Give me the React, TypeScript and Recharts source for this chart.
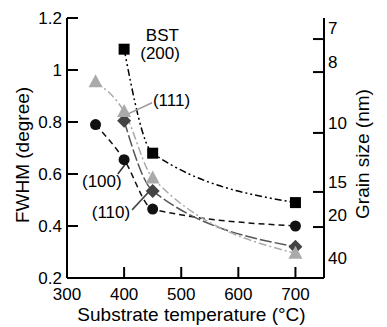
import React from 'react';
import { ComposedChart, Line, XAxis, YAxis, ReferenceLine, ReferenceDot } from 'recharts';

// ---- data ----
const temps200 = [400, 450, 700];
const fwhm200 = [1.08, 0.68, 0.49];
const temps100 = [350, 400, 450, 700];
const fwhm100 = [0.79, 0.655, 0.465, 0.4];
const temps110 = [400, 450, 700];
const fwhm110 = [0.805, 0.535, 0.32];
const temps111 = [350, 400, 450, 700];
const fwhm111 = [0.955, 0.84, 0.585, 0.295];

const xTicks = [300, 400, 500, 600, 700];
const yTicks = [0.2, 0.4, 0.6, 0.8, 1.0, 1.2];
const yTickLabels = ['0.2', '0.4', '0.6', '0.8', '1', '1.2'];
const grainLabels = ['7', '8', '10', '15', '20', '40'];
const grainLabelFwhm = [1.162, 1.031, 0.796, 0.569, 0.442, 0.277];
const grainMarkFwhm = [1.119, 0.992, 0.758, 0.531, 0.396];

const annotations = [
  { text: 'BST', x: 467, y: 1.135 },
  { text: '(200)', x: 463, y: 1.067 },
  { text: '(111)', x: 483, y: 0.885 },
  { text: '(100)', x: 361, y: 0.573 },
  { text: '(110)', x: 377, y: 0.454 },
];
const leaders = [
  { x1: 407, y1: 0.831, x2: 449, y2: 0.874, color: '#9a9a9a' },
  { x1: 389, y1: 0.6, x2: 404, y2: 0.643, color: '#333' },
  { x1: 414, y1: 0.462, x2: 446, y2: 0.538, color: '#444' },
];

const toRows = (xs: number[], ys: number[]) => xs.map((t, i) => ({ t, v: ys[i] }));
const s200 = toRows(temps200, fwhm200);
const s100 = toRows(temps100, fwhm100);
const s110 = toRows(temps110, fwhm110);
const s111 = toRows(temps111, fwhm111);

const FONT = 17;

const LeftTick = (p: any) => {
  const { x, y, payload } = p;
  const idx = yTicks.findIndex((v) => Math.abs(v - payload.value) < 1e-6);
  return (
    <g>
      <line x1={x} x2={x + 11} y1={y} y2={y} stroke="#000" strokeWidth={2} />
      <text x={x - 5} y={y} dy="0.36em" textAnchor="end" fontSize={FONT} fill="#000">
        {yTickLabels[idx]}
      </text>
    </g>
  );
};

const BottomTick = (p: any) => {
  const { x, y, payload } = p;
  return (
    <g>
      <line x1={x} x2={x} y1={y} y2={y - 11} stroke="#000" strokeWidth={2} />
      <text x={x} y={y + 22} textAnchor="middle" fontSize={FONT} fill="#000">
        {payload.value}
      </text>
    </g>
  );
};

const RightTick = (p: any) => {
  const { x, y, payload } = p;
  const li = grainLabelFwhm.findIndex((v) => Math.abs(v - payload.value) < 1e-6);
  if (li >= 0) {
    return (
      <text x={x + 4} y={y} dy="0.36em" textAnchor="start" fontSize={FONT} fill="#000">
        {grainLabels[li]}
      </text>
    );
  }
  return <line x1={x} x2={x - 11} y1={y} y2={y} stroke="#000" strokeWidth={2} />;
};

const squareDot = (p: any) => (
  <rect key={`s${p.index}`} x={p.cx - 5.5} y={p.cy - 5.5} width={11} height={11} fill="#000" />
);
const circleDot = (p: any) => <circle key={`c${p.index}`} cx={p.cx} cy={p.cy} r={5.5} fill="#111" />;
const diamondDot = (p: any) => (
  <polygon
    key={`d${p.index}`}
    points={`${p.cx},${p.cy - 7} ${p.cx + 7},${p.cy} ${p.cx},${p.cy + 7} ${p.cx - 7},${p.cy}`}
    fill="#444"
  />
);
const triangleDot = (p: any) => (
  <polygon
    key={`t${p.index}`}
    points={`${p.cx},${p.cy - 7.5} ${p.cx + 7},${p.cy + 5.5} ${p.cx - 7},${p.cy + 5.5}`}
    fill="#aaa"
  />
);

export default function App() {
  return (
    <div style={{ position: 'absolute', left: 0, top: 0, fontFamily: '"Liberation Sans", Arial, sans-serif' }}>
      <ComposedChart width={387} height={327} margin={{ top: 18, right: 13, bottom: 19, left: 17 }}>
        <XAxis
          xAxisId="b"
          dataKey="t"
          type="number"
          domain={[300, 750]}
          ticks={xTicks}
          interval={0}
          height={30}
          tickSize={0}
          tickMargin={0}
          tickLine={false}
          tick={BottomTick}
          axisLine={{ stroke: '#000', strokeWidth: 2 }}
          allowDataOverflow
          label={{
            content: (lp: any) => {
              const vb = lp.viewBox;
              return (
                <text x={vb.x + vb.width / 2 - 4} y={321} textAnchor="middle" fontSize={19} fill="#000">
                  Substrate temperature (°C)
                </text>
              );
            },
          }}
        />
        <XAxis
          xAxisId="top"
          orientation="top"
          type="number"
          domain={[300, 750]}
          height={0}
          tick={false}
          tickLine={false}
          axisLine={{ stroke: '#000', strokeWidth: 2 }}
        />
        <YAxis
          yAxisId="l"
          type="number"
          domain={[0.2, 1.2]}
          ticks={yTicks}
          interval={0}
          width={50}
          tickSize={0}
          tickMargin={0}
          tickLine={false}
          tick={LeftTick}
          axisLine={{ stroke: '#000', strokeWidth: 2 }}
          allowDataOverflow
          label={{
            content: (lp: any) => {
              const vb = lp.viewBox;
              const cy = vb.y + vb.height / 2 + 7;
              return (
                <text x={29} y={cy} transform={`rotate(-90 29 ${cy})`} textAnchor="middle" fontSize={19} fill="#000">
                  FWHM (degree)
                </text>
              );
            },
          }}
        />
        <YAxis
          yAxisId="r"
          orientation="right"
          type="number"
          domain={[0.2, 1.2]}
          ticks={[...grainLabelFwhm, ...grainMarkFwhm]}
          interval={0}
          width={50}
          tickSize={0}
          tickMargin={0}
          tickLine={false}
          tick={RightTick}
          axisLine={{ stroke: '#000', strokeWidth: 2 }}
          allowDataOverflow
          label={{
            content: (lp: any) => {
              const vb = lp.viewBox;
              const cy = vb.y + vb.height / 2 + 6;
              return (
                <text x={369} y={cy} transform={`rotate(-90 369 ${cy})`} textAnchor="middle" fontSize={19} fill="#000">
                  Grain size (nm)
                </text>
              );
            },
          }}
        />

        <Line
          xAxisId="b"
          yAxisId="l"
          data={s200}
          dataKey="v"
          type="monotone"
          stroke="#000"
          strokeWidth={1.5}
          strokeDasharray="7 3 2 3 2 3"
          dot={squareDot}
          activeDot={false}
          isAnimationActive={false}
        />
        <Line
          xAxisId="b"
          yAxisId="l"
          data={s100}
          dataKey="v"
          type="monotone"
          stroke="#111"
          strokeWidth={1.5}
          strokeDasharray="6 4"
          dot={circleDot}
          activeDot={false}
          isAnimationActive={false}
        />
        <Line
          xAxisId="b"
          yAxisId="l"
          data={s110}
          dataKey="v"
          type="monotone"
          stroke="#555"
          strokeWidth={1.5}
          strokeDasharray="12 3"
          dot={diamondDot}
          activeDot={false}
          isAnimationActive={false}
        />
        <Line
          xAxisId="b"
          yAxisId="l"
          data={s111}
          dataKey="v"
          type="monotone"
          stroke="#aaa"
          strokeWidth={1.5}
          strokeDasharray="8 3 2 3"
          dot={triangleDot}
          activeDot={false}
          isAnimationActive={false}
        />

        {leaders.map((l, i) => (
          <ReferenceLine
            key={`ld${i}`}
            xAxisId="b"
            yAxisId="l"
            segment={[
              { x: l.x1, y: l.y1 },
              { x: l.x2, y: l.y2 },
            ]}
            stroke={l.color}
            strokeWidth={1.5}
            ifOverflow="visible"
          />
        ))}
        {annotations.map((a, i) => (
          <ReferenceDot
            key={`an${i}`}
            xAxisId="b"
            yAxisId="l"
            x={a.x}
            y={a.y}
            r={0}
            fill="none"
            stroke="none"
            ifOverflow="visible"
            label={{ value: a.text, position: 'center', fontSize: FONT, fill: '#000' }}
          />
        ))}
      </ComposedChart>
    </div>
  );
}
